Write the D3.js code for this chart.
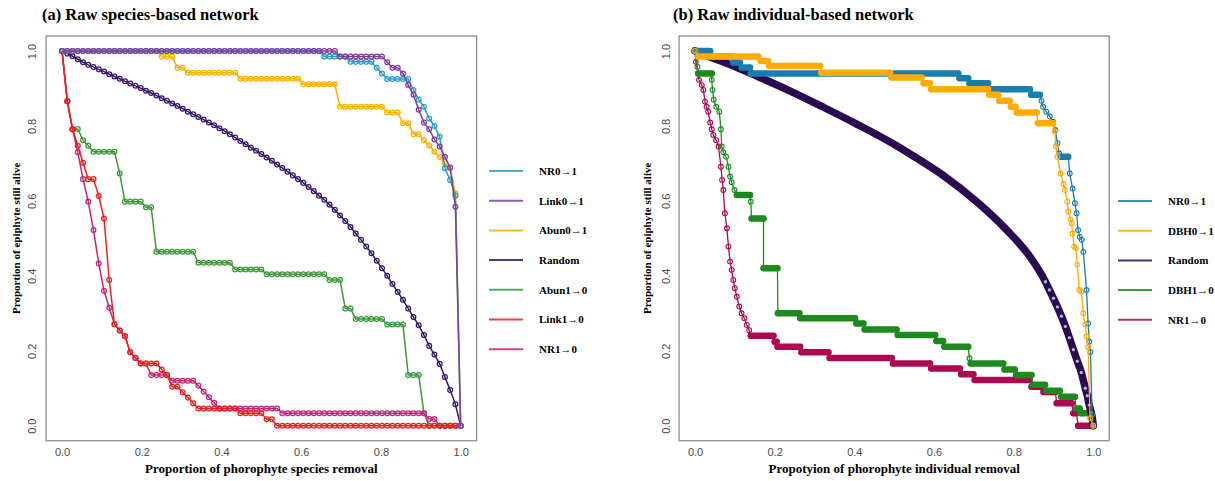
<!DOCTYPE html>
<html>
<head>
<meta charset="utf-8">
<script src="https://cdn.jsdelivr.net/npm/d3@7"></script>
<style>
  body { margin: 0; background: #fff; }
  svg { display: block; }
</style>
</head>
<body>
<svg id="chart" width="1215" height="481"></svg>
<script>
// =========================
// DATA
// =========================
const tickValues = [0, 0.2, 0.4, 0.6, 0.8, 1.0];

// (a) species-based network: 76 phorophyte species removed one by one (x = i / 76)
const speciesCount = 76;
// run-length encoded: [number of consecutive removals, proportion of epiphytes alive]
const nr01Species = [[50, 1], [5, .985], [5, .971], [1, .955], [1, .94], [5, .925], [1, .896], [1, .87], [1, .851],
  [1, .82], [1, .80], [1, .771], [1, .687], [1, .656], [1, .614], [1, 0]];
const link01Species = [[53, 1], [9, .985], [1, .97], [2, .955], [1, .94], [1, .909], [1, .883], [1, .843], [1, .809],
  [1, .791], [1, .764], [1, .745], [1, .718], [1, .689], [1, .584], [1, 0]];
const abun01Species = [[19, 1], [3, .985], [2, .955], [10, .942], [12, .926], [7, .911], [9, .851], [3, .836], [2, .807],
  [2, .778], [1, .762], [1, .748], [1, .731], [1, .717], [1, .70], [1, .687], [1, .62], [1, 0]];
const abun10Species = [[1, 1], [1, .866], [1, .791], [1, .792], [1, .762], [1, .747], [5, .731], [1, .673], [4, .598],
  [2, .583], [8, .464], [7, .435], [6, .417], [12, .404], [3, .389], [2, .313], [6, .285], [4, .27], [3, .135],
  [1, .033], [7, 0]];
const link10Species = [[1, 1], [1, .866], [1, .791], [1, .747], [1, .702], [2, .658], [1, .613], [1, .553], [1, .389],
  [1, .271], [1, .254], [1, .239], [1, .196], [1, .181], [4, .166], [1, .15], [1, .135], [2, .104], [1, .089],
  [1, .075], [1, .06], [8, .046], [5, .033], [2, .017], [36, 0]];
const nr10Species = [[1, 1], [1, .866], [1, .791], [1, .73], [1, .658], [1, .598], [1, .522], [1, .433], [1, .36],
  [1, .315], [1, .271], [1, .254], [1, .239], [1, .196], [1, .181], [2, .166], [4, .135], [5, .12], [1, .107],
  [1, .091], [1, .076], [1, .061], [12, .046], [28, .033], [2, .018], [5, 0]];
const randomSpecies = [1, .993, .986, .978, .970, .963, .957, .951, .945, .938, .932, .926, .919, .913, .907, .901,
  .894, .888, .881, .874, .867, .860, .853, .846, .838, .831, .824, .817, .809, .802, .794, .786, .778, .769, .760,
  .751, .742, .734, .725, .716, .707, .697, .688, .678, .668, .658, .648, .637, .626, .614, .603, .590, .576, .561,
  .546, .530, .513, .496, .478, .460, .440, .420, .400, .378, .357, .336, .313, .290, .268, .242, .213, .190, .165,
  .130, .095, .057, 0];

// (b) individual-based network: step vertices [proportion removed, proportion alive]
const nr01Indiv = [[0, 1], [.038, 1], [.04, .985], [.094, .985], [.096, .969], [.113, .969], [.117, .956], [.138, .956],
  [.14, .94], [.661, .94], [.664, .927], [.686, .927], [.689, .914], [.736, .914], [.741, .898], [.841, .898],
  [.844, .883], [.866, .883], [.87, .867], [.874, .851], [.882, .838], [.891, .825], [.899, .811], [.905, .789],
  [.91, .754], [.914, .727], [.918, .718], [.937, .718], [.941, .673], [.948, .633], [.954, .594], [.958, .567],
  [.962, .522], [.966, .504], [.971, .496], [.975, .464], [.983, .362], [.987, .273], [.99, .224], [.993, .197],
  [.997, .03], [1, 0]];
const dbh01Indiv = [[0, 1], [.008, .985], [.159, .985], [.165, .973], [.183, .973], [.186, .96], [.314, .96],
  [.317, .942], [.49, .942], [.493, .929], [.569, .929], [.574, .914], [.59, .914], [.593, .898], [.736, .898],
  [.739, .883], [.761, .883], [.764, .867], [.79, .867], [.793, .851], [.805, .851], [.808, .836], [.858, .836],
  [.861, .807], [.899, .807], [.904, .785], [.906, .745], [.91, .718], [.918, .673], [.925, .645], [.929, .629],
  [.935, .598], [.937, .571], [.943, .55], [.946, .54], [.948, .513], [.952, .478], [.956, .474], [.96, .43],
  [.965, .362], [.97, .358], [.975, .30], [.98, .27], [.983, .238], [.987, .21], [.992, .02], [1, 0]];
const randomIndiv = [[0, 1], [.038, .984], [.088, .964], [.155, .933], [.239, .893], [.322, .85], [.406, .805],
  [.49, .757], [.54, .725], [.623, .668], [.707, .598], [.783, .522], [.841, .451], [.88, .384], [.89, .362],
  [.90, .34], [.91, .317], [.92, .292], [.93, .265], [.94, .235], [.95, .203], [.96, .172], [.97, .142], [.98, .10],
  [.985, .08], [.99, .055], [.995, .035], [.997, .025], [1, 0]];
const dbh10Indiv = [[0, 1], [.006, .958], [.008, .94], [.042, .94], [.042, .923], [.044, .896], [.047, .87],
  [.053, .851], [.061, .838], [.065, .791], [.067, .745], [.071, .73], [.078, .718], [.084, .691], [.088, .665],
  [.092, .65], [.099, .629], [.105, .616], [.138, .616], [.14, .598], [.142, .553], [.172, .553], [.172, .42],
  [.207, .42], [.208, .30], [.262, .30], [.264, .287], [.402, .287], [.405, .273], [.423, .273], [.426, .257],
  [.506, .257], [.509, .242], [.603, .242], [.606, .226], [.623, .226], [.626, .211], [.686, .211], [.689, .18],
  [.692, .166], [.774, .166], [.777, .15], [.803, .15], [.806, .135], [.845, .135], [.848, .109], [.879, .109],
  [.882, .093], [.916, .093], [.919, .077], [.954, .077], [.957, .046], [.966, .046], [.968, .033], [.992, .033],
  [1, 0]];
const nr10Indiv = [[0, 1], [.002, .971], [.008, .94], [.01, .923], [.017, .909], [.021, .896], [.025, .865],
  [.029, .851], [.033, .838], [.038, .809], [.042, .791], [.046, .776], [.053, .762], [.059, .745], [.065, .691],
  [.068, .656], [.071, .629], [.075, .567], [.08, .527], [.084, .478], [.088, .438], [.092, .416], [.096, .389],
  [.1, .367], [.105, .344], [.111, .318], [.117, .30], [.124, .287], [.13, .269], [.136, .255], [.14, .24],
  [.197, .24], [.2, .224], [.205, .224], [.207, .211], [.264, .211], [.267, .196], [.335, .196], [.338, .181],
  [.494, .181], [.497, .166], [.59, .166], [.593, .153], [.665, .153], [.668, .137], [.699, .137], [.702, .122],
  [.841, .122], [.845, .104], [.872, .104], [.875, .09], [.905, .09], [.908, .06], [.946, .06], [.95, .033],
  [.958, .033], [.962, 0], [1, 0]];

// legend order (top to bottom) and colours
const legendA = ["NR0→1", "Link0→1", "Abun0→1", "Random", "Abun1→0", "Link1→0", "NR1→0"];
const coloursA = ["#2a9fc4", "#7f3fa2", "#ffb000", "#36176a", "#3c983c", "#ec2020", "#c32577"];
const legendB = ["NR0→1", "DBH0→1", "Random", "DBH1→0", "NR1→0"];
const coloursB = ["#1a7db0", "#ffab00", "#2a0a50", "#1d8a1d", "#ab0a52"];

// decode run-length steps onto the species removal grid
function expandRuns(runs) {
    const pts = [];
    let i = 0;
    runs.forEach(([n, v]) => {
        for (let k = 0; k < n; k++) { pts.push([i / speciesCount, v]); i++; }
    });
    return pts;
}

const seriesA = {
    "NR0→1": expandRuns(nr01Species),
    "Link0→1": expandRuns(link01Species),
    "Abun0→1": expandRuns(abun01Species),
    "Random": randomSpecies.map((v, i) => [i / speciesCount, v]),
    "Abun1→0": expandRuns(abun10Species),
    "Link1→0": expandRuns(link10Species),
    "NR1→0": expandRuns(nr10Species)
};
const seriesB = {
    "NR0→1": nr01Indiv,
    "DBH0→1": dbh01Indiv,
    "Random": randomIndiv,
    "DBH1→0": dbh10Indiv,
    "NR1→0": nr10Indiv
};

const svg = d3.select("#chart");
const serif = "'Liberation Serif', 'Times New Roman', serif";
const sans = "'Liberation Sans', Arial, sans-serif";

// =========================
// PANEL FRAME + AXES
// =========================
function drawFrame(p) {
    const x = d3.scaleLinear().domain([-0.04, 1.04]).range([p.left, p.right]);
    const y = d3.scaleLinear().domain([-0.04, 1.04]).range([p.bottom, p.top]);

    const xAxis = svg.append("g")
        .attr("transform", `translate(0,${p.bottom})`)
        .call(d3.axisBottom(x).tickValues(tickValues).tickSize(0).tickPadding(8).tickFormat(d3.format(".1f")));
    xAxis.select(".domain").remove();
    xAxis.selectAll("text").style("font-family", sans).style("font-size", "11px").attr("fill", "#4a4a4a");

    const yAxis = svg.append("g")
        .attr("transform", `translate(${p.left},0)`)
        .call(d3.axisLeft(y).tickValues(tickValues).tickSize(0).tickFormat(d3.format(".1f")));
    yAxis.select(".domain").remove();
    yAxis.selectAll("text")
        .attr("x", null).attr("dy", "0.35em")
        .attr("text-anchor", "middle")
        .attr("transform", `translate(${p.yTickX - p.left},0) rotate(-90)`)
        .style("font-family", sans).style("font-size", "11px").attr("fill", "#4a4a4a");

    svg.append("rect")
        .attr("x", p.left).attr("y", p.top)
        .attr("width", p.right - p.left).attr("height", p.bottom - p.top)
        .attr("fill", "none").attr("stroke", "#8c8c8c").attr("stroke-width", 1.3);

    svg.append("text")
        .attr("x", p.titleX).attr("y", 20)
        .style("font-family", serif).style("font-weight", "bold").style("font-size", "16.5px")
        .text(p.title);

    svg.append("text")
        .attr("x", (p.left + p.right) / 2).attr("y", 473)
        .attr("text-anchor", "middle")
        .style("font-family", serif).style("font-weight", "bold").style("font-size", "13px")
        .text(p.xLabel);

    svg.append("text")
        .attr("transform", `translate(${p.yLabelX},${(p.top + p.bottom) / 2}) rotate(-90)`)
        .attr("text-anchor", "middle")
        .style("font-family", serif).style("font-weight", "bold").style("font-size", "11px")
        .text("Proportion of epiphyte still alive");

    return { x, y };
}

function drawLegend(names, colours, lx, ly0, step) {
    names.forEach((name, i) => {
        const yy = ly0 + i * step;
        svg.append("line")
            .attr("x1", lx).attr("x2", lx + 34).attr("y1", yy).attr("y2", yy)
            .attr("stroke", colours[i]).attr("stroke-width", 2).attr("opacity", 0.85);
        svg.append("text")
            .attr("x", lx + 50).attr("y", yy).attr("dy", "0.35em")
            .style("font-family", serif).style("font-weight", "bold").style("font-size", "11px")
            .text(name);
    });
}

// =========================
// PANEL A
// =========================
const pa = { left: 46.1, right: 476.6, top: 36, bottom: 440.7, yTickX: 32.5, yLabelX: 20,
    titleX: 42, title: "(a) Raw species-based network", xLabel: "Proportion of phorophyte species removal" };
const sa = drawFrame(pa);
const lineA = d3.line().x(d => sa.x(d[0])).y(d => sa.y(d[1]));
const orderA = ["Abun1→0", "NR1→0", "Link1→0", "Random", "Abun0→1", "NR0→1", "Link0→1"];
orderA.forEach(name => {
    const col = coloursA[legendA.indexOf(name)];
    const g = svg.append("g");
    g.append("path").datum(seriesA[name])
        .attr("d", lineA).attr("fill", "none").attr("stroke", col).attr("stroke-width", 1.5);
    g.selectAll("circle").data(seriesA[name]).enter().append("circle")
        .attr("cx", d => sa.x(d[0])).attr("cy", d => sa.y(d[1])).attr("r", 2.4)
        .attr("fill", "none").attr("stroke", col).attr("stroke-width", 1.25);
});
drawLegend(legendA, coloursA, 489, 171, 29.7);

// =========================
// PANEL B
// =========================
const pb = { left: 679.1, right: 1109.2, top: 36, bottom: 440.7, yTickX: 666, yLabelX: 651,
    titleX: 673, title: "(b) Raw individual-based network", xLabel: "Propotyion of phorophyte individual removal" };
const sb = drawFrame(pb);
const lineB = d3.line().x(d => sb.x(d[0])).y(d => sb.y(d[1]));
const orderB = ["NR1→0", "DBH1→0", "Random", "NR0→1", "DBH0→1"];
orderB.forEach(name => {
    const col = coloursB[legendB.indexOf(name)];
    const pts = seriesB[name];
    const g = svg.append("g");
    if (name === "Random") {
        // dense markers merge into a thick band
        g.append("path").datum(pts)
            .attr("d", lineB.curve(d3.curveMonotoneX)).attr("fill", "none")
            .attr("stroke", col).attr("stroke-width", 7.5).attr("stroke-linecap", "round");
        lineB.curve(d3.curveLinear);
        g.selectAll("circle").data(pts.filter(d => d[0] >= 0.88)).enter().append("circle")
            .attr("cx", d => sb.x(d[0])).attr("cy", d => sb.y(d[1])).attr("r", 1.7)
            .attr("fill", "#b9aed0").attr("stroke", "none");
        return;
    }
    // flat runs: overlapping markers form a band
    const runs = d3.pairs(pts).filter(([a, b]) => a[1] === b[1] && b[0] - a[0] > 0.003);
    g.selectAll("line.band").data(runs).enter().append("line")
        .attr("class", "band")
        .attr("x1", d => sb.x(d[0][0])).attr("x2", d => sb.x(d[1][0]))
        .attr("y1", d => sb.y(d[0][1])).attr("y2", d => sb.y(d[1][1]))
        .attr("stroke", col).attr("stroke-width", 6.5).attr("stroke-linecap", "round");
    g.append("path").datum(pts)
        .attr("d", lineB).attr("fill", "none").attr("stroke", col).attr("stroke-width", 1.3);
    g.selectAll("circle").data(pts).enter().append("circle")
        .attr("cx", d => sb.x(d[0])).attr("cy", d => sb.y(d[1])).attr("r", 2.4)
        .attr("fill", "none").attr("stroke", col).attr("stroke-width", 1.1);
});
drawLegend(legendB, coloursB, 1118, 201, 29.7);
</script>
</body>
</html>
